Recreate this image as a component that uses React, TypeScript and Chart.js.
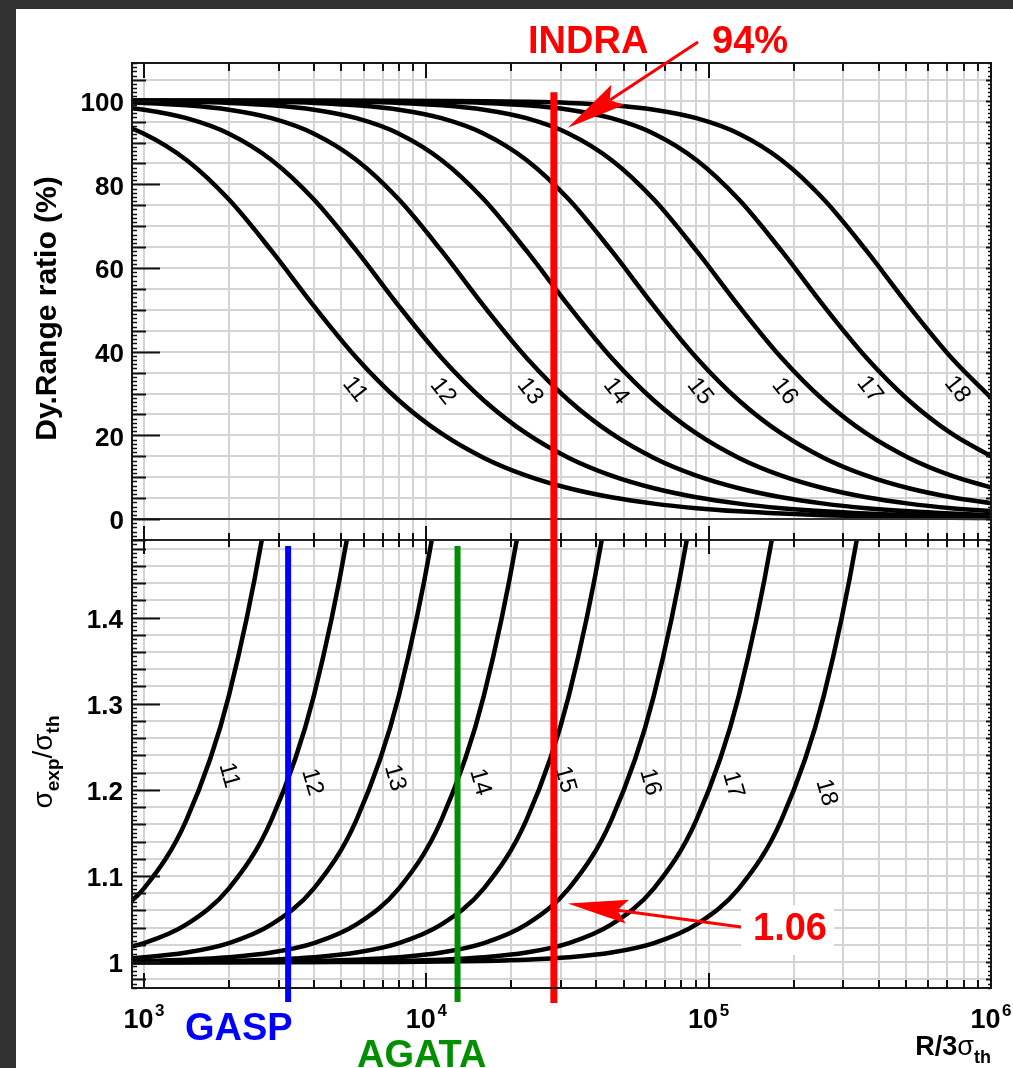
import React, { useEffect, useRef } from "react";
import { Chart, registerables } from "chart.js";

Chart.register(...registerables);

const W = 1013;
const H = 1068;

// ---------- data ----------
// sampled R/3σth positions shared by every curve
const xValues = [707.1, 1000, 1414.2, 2000, 2828.4, 4000, 5656.9, 8000, 11314, 16000, 22627, 32000, 45255, 64000, 90510, 128000, 181019, 256000, 362039, 512000, 724077, 1024000];

const bitCounts = ["11", "12", "13", "14", "15", "16", "17", "18"];

// top panel: dynamic range ratio (%)
const ratio11 = [95.81, 92.10, 85.82, 76.36, 64.14, 50.89, 38.57, 28.35, 20.46, 14.62, 10.39, 7.37, 5.22, 3.69, 2.61, 1.85, 1.31, 0.92, 0.65, 0.46, 0.33, 0.23];
const ratio12 = [98.90, 97.84, 95.81, 92.10, 85.82, 76.36, 64.14, 50.89, 38.57, 28.35, 20.46, 14.62, 10.39, 7.37, 5.22, 3.69, 2.61, 1.85, 1.31, 0.92, 0.65, 0.46];
const ratio13 = [99.72, 99.45, 98.90, 97.84, 95.81, 92.10, 85.82, 76.36, 64.14, 50.89, 38.57, 28.35, 20.46, 14.62, 10.39, 7.37, 5.22, 3.69, 2.61, 1.85, 1.31, 0.92];
const ratio14 = [99.93, 99.86, 99.72, 99.45, 98.90, 97.84, 95.81, 92.10, 85.82, 76.36, 64.14, 50.89, 38.57, 28.35, 20.46, 14.62, 10.39, 7.37, 5.22, 3.69, 2.61, 1.85];
const ratio15 = [99.98, 99.97, 99.93, 99.86, 99.72, 99.45, 98.90, 97.84, 95.81, 92.10, 85.82, 76.36, 64.14, 50.89, 38.57, 28.35, 20.46, 14.62, 10.39, 7.37, 5.22, 3.69];
const ratio16 = [100.0, 99.99, 99.98, 99.97, 99.93, 99.86, 99.72, 99.45, 98.90, 97.84, 95.81, 92.10, 85.82, 76.36, 64.14, 50.89, 38.57, 28.35, 20.46, 14.62, 10.39, 7.37];
const ratio17 = [100.0, 100.0, 100.0, 99.99, 99.98, 99.97, 99.93, 99.86, 99.72, 99.45, 98.90, 97.84, 95.81, 92.10, 85.82, 76.36, 64.14, 50.89, 38.57, 28.35, 20.46, 14.62];
const ratio18 = [100.0, 100.0, 100.0, 100.0, 100.0, 99.99, 99.98, 99.97, 99.93, 99.86, 99.72, 99.45, 98.90, 97.84, 95.81, 92.10, 85.82, 76.36, 64.14, 50.89, 38.57, 28.35];

// bottom panel: σexp/σth
const sigma11 = [1.0438, 1.0857, 1.1652, 1.3097, 1.5590, 1.9649, null, null, null, null, null, null, null, null, null, null, null, null, null, null, null, null];
const sigma12 = [1.0111, 1.0221, 1.0438, 1.0857, 1.1652, 1.3097, 1.5590, 1.9649, null, null, null, null, null, null, null, null, null, null, null, null, null, null];
const sigma13 = [1.0028, 1.0056, 1.0111, 1.0221, 1.0438, 1.0857, 1.1652, 1.3097, 1.5590, 1.9649, null, null, null, null, null, null, null, null, null, null, null, null];
const sigma14 = [1.0007, 1.0014, 1.0028, 1.0056, 1.0111, 1.0221, 1.0438, 1.0857, 1.1652, 1.3097, 1.5590, 1.9649, null, null, null, null, null, null, null, null, null, null];
const sigma15 = [1.0002, 1.0003, 1.0007, 1.0014, 1.0028, 1.0056, 1.0111, 1.0221, 1.0438, 1.0857, 1.1652, 1.3097, 1.5590, 1.9649, null, null, null, null, null, null, null, null];
const sigma16 = [1.0000, 1.0001, 1.0002, 1.0003, 1.0007, 1.0014, 1.0028, 1.0056, 1.0111, 1.0221, 1.0438, 1.0857, 1.1652, 1.3097, 1.5590, 1.9649, null, null, null, null, null, null];
const sigma17 = [1.0000, 1.0000, 1.0000, 1.0001, 1.0002, 1.0003, 1.0007, 1.0014, 1.0028, 1.0056, 1.0111, 1.0221, 1.0438, 1.0857, 1.1652, 1.3097, 1.5590, 1.9649, null, null, null, null];
const sigma18 = [1.0000, 1.0000, 1.0000, 1.0000, 1.0000, 1.0001, 1.0002, 1.0003, 1.0007, 1.0014, 1.0028, 1.0056, 1.0111, 1.0221, 1.0438, 1.0857, 1.1652, 1.3097, 1.5590, 1.9649, null, null];

const ratioSeries = [ratio11, ratio12, ratio13, ratio14, ratio15, ratio16, ratio17, ratio18];
const sigmaSeries = [sigma11, sigma12, sigma13, sigma14, sigma15, sigma16, sigma17, sigma18];

// axes
const xMin = 907;
const xMax = 1000000;
const ratioMin = -5;
const ratioMax = 109;
const sigmaMin = 0.97;
const sigmaMax = 1.49;

const xDecades = [1000, 10000, 100000, 1000000];
const xDecadeExponents = ["3", "4", "5", "6"];
const xMinorTicks = [2000, 3000, 4000, 5000, 6000, 7000, 8000, 9000, 20000, 30000, 40000, 50000, 60000, 70000, 80000, 90000, 200000, 300000, 400000, 500000, 600000, 700000, 800000, 900000];
const ratioTickValues = [0, 20, 40, 60, 80, 100];
const ratioTickLabels = ["0", "20", "40", "60", "80", "100"];
const sigmaTickValues = [1, 1.1, 1.2, 1.3, 1.4];
const sigmaTickLabels = ["1", "1.1", "1.2", "1.3", "1.4"];

// curve labels
const ratioLabelX = [5590, 11460, 23280, 47000, 93100, 186000, 372000, 759000];
const ratioLabelY = [31, 30.5, 30.5, 30.5, 30.5, 30.5, 31, 31];
const sigmaLabelX = [2000, 3940, 7740, 15500, 31000, 62000, 122000, 261000];
const sigmaLabelY = [1.217, 1.209, 1.214, 1.209, 1.212, 1.209, 1.206, 1.197];

// detectors
const detectorNames = ["GASP", "AGATA", "INDRA"];
const detectorX = [3240, 12900, 28300];
const detectorColors = ["#0000ff", "#008f00", "#ff0000"];
const indraRatioText = "94%";
const indraRatioValue = 94;
const indraSigmaText = "1.06";
const indraSigmaValue = 1.068;

// ---------- drawing helpers ----------
const SANS = '"Liberation Sans", Arial, Helvetica, sans-serif';
const f = (size: number, bold = true) => `${bold ? "bold " : ""}${size}px ${SANS}`;

type Seg = { text: string; font: string; dy: number };

function segWidth(ctx: CanvasRenderingContext2D, segs: Seg[]) {
  let w = 0;
  for (const s of segs) {
    ctx.font = s.font;
    w += ctx.measureText(s.text).width;
  }
  return w;
}
function drawSegs(ctx: CanvasRenderingContext2D, segs: Seg[], x0: number, baseY: number) {
  let x = x0;
  ctx.textAlign = "left";
  ctx.textBaseline = "alphabetic";
  for (const s of segs) {
    ctx.font = s.font;
    ctx.fillText(s.text, x, baseY + s.dy);
    x += ctx.measureText(s.text).width;
  }
}
function line(ctx: CanvasRenderingContext2D, x1: number, y1: number, x2: number, y2: number) {
  ctx.beginPath();
  ctx.moveTo(x1, y1);
  ctx.lineTo(x2, y2);
  ctx.stroke();
}
function arrow(ctx: CanvasRenderingContext2D, sx: number, sy: number, tx: number, ty: number, color: string) {
  const dx = sx - tx, dy = sy - ty;
  const L = Math.hypot(dx, dy);
  const ux = dx / L, uy = dy / L;
  const px = -uy, py = ux;
  const head = 60, notch = 50, half = 12;
  ctx.strokeStyle = color;
  ctx.fillStyle = color;
  ctx.lineWidth = 3;
  line(ctx, sx, sy, tx + ux * notch, ty + uy * notch);
  ctx.beginPath();
  ctx.moveTo(tx, ty);
  ctx.lineTo(tx + ux * head + px * half, ty + uy * head + py * half);
  ctx.lineTo(tx + ux * notch, ty + uy * notch);
  ctx.lineTo(tx + ux * head - px * half, ty + uy * head - py * half);
  ctx.closePath();
  ctx.fill();
}

const rootStyle = {
  id: "rootStyle",
  beforeDraw(chart: any) {
    const ctx: CanvasRenderingContext2D = chart.ctx;
    ctx.save();
    ctx.fillStyle = "#323232";
    ctx.fillRect(0, 0, W, H);
    ctx.fillStyle = "#ffffff";
    ctx.fillRect(16, 9, W - 16, H - 9);
    ctx.restore();
  },
  beforeDatasetsDraw(chart: any) {
    const ctx: CanvasRenderingContext2D = chart.ctx;
    const a = chart.chartArea;
    const xs = chart.scales.x, yT = chart.scales.yTop, yB = chart.scales.yBot;
    ctx.save();
    ctx.strokeStyle = "#d4d4d4";
    ctx.lineWidth = 2;
    for (const v of [...xDecades, ...xMinorTicks]) {
      const px = Math.round(xs.getPixelForValue(v));
      if (px <= a.left + 1 || px >= a.right - 1) continue;
      line(ctx, px, a.top, px, a.bottom);
    }
    for (let v = -5; v <= ratioMax; v += 5) {
      const py = Math.round(yT.getPixelForValue(v));
      if (py <= a.top + 1 || py >= yT.bottom - 1) continue;
      line(ctx, a.left, py, a.right, py);
    }
    for (let i = 49; i <= 74; i++) {
      const py = Math.round(yB.getPixelForValue(i * 0.02));
      if (py <= yB.top + 1 || py >= a.bottom - 1) continue;
      line(ctx, a.left, py, a.right, py);
    }
    ctx.restore();
  },
  afterDatasetsDraw(chart: any) {
    const ctx: CanvasRenderingContext2D = chart.ctx;
    const a = chart.chartArea;
    const xs = chart.scales.x, yT = chart.scales.yTop, yB = chart.scales.yBot;
    const X = (v: number) => xs.getPixelForValue(v);
    const mid = yT.bottom;
    ctx.save();

    // curve labels
    ctx.fillStyle = "#000";
    ctx.font = f(24, false);
    ctx.textAlign = "center";
    ctx.textBaseline = "middle";
    bitCounts.forEach((b, i) => {
      ctx.save();
      ctx.translate(X(ratioLabelX[i]), yT.getPixelForValue(ratioLabelY[i]));
      ctx.rotate((52 * Math.PI) / 180);
      ctx.fillText(b, 0, 0);
      ctx.restore();
      ctx.save();
      ctx.translate(X(sigmaLabelX[i]), yB.getPixelForValue(sigmaLabelY[i]));
      ctx.rotate((74 * Math.PI) / 180);
      ctx.fillText(b, 0, 0);
      ctx.restore();
    });

    // white box behind the 1.06 text
    ctx.fillStyle = "#ffffff";
    ctx.fillRect(741, 905, 93, 50);

    // zero line and panel boundary
    ctx.strokeStyle = "#333";
    ctx.lineWidth = 2;
    const y0 = Math.round(yT.getPixelForValue(0));
    line(ctx, a.left, y0, a.right, y0);
    ctx.strokeStyle = "#222";
    line(ctx, a.left, mid, a.right, mid);

    // detector lines
    const gx = X(detectorX[0]);
    const ax = X(detectorX[1]);
    const ix = X(detectorX[2]);
    ctx.lineWidth = 6;
    ctx.strokeStyle = detectorColors[0];
    line(ctx, gx, yB.getPixelForValue(1.483), gx, a.bottom + 14);
    ctx.strokeStyle = detectorColors[1];
    line(ctx, ax, yB.getPixelForValue(1.483), ax, a.bottom + 14);
    ctx.lineWidth = 7;
    ctx.strokeStyle = detectorColors[2];
    line(ctx, ix, yT.getPixelForValue(102), ix, a.bottom + 15);

    // frame
    ctx.strokeStyle = "#1a1a1a";
    ctx.lineWidth = 2;
    ctx.strokeRect(a.left, a.top, a.right - a.left, a.bottom - a.top);

    // ticks
    ctx.lineWidth = 2;
    ctx.strokeStyle = "#111";
    for (let v = ratioMin; v <= ratioMax; v++) {
      const py = Math.round(yT.getPixelForValue(v)) + 0.5;
      const len = v % 20 === 0 ? 28 : v % 5 === 0 ? 14 : 5;
      ctx.lineWidth = len > 5 ? 2 : 1.5;
      line(ctx, a.left, py, a.left + len, py);
      line(ctx, a.right, py, a.right - (len > 5 ? 5 : 3), py);
    }
    for (let i = 194; i <= 298; i++) {
      const py = Math.round(yB.getPixelForValue(i / 200)) + 0.5;
      const len = i % 20 === 0 ? 28 : i % 4 === 0 ? 14 : 5;
      ctx.lineWidth = len > 5 ? 2 : 1.5;
      line(ctx, a.left, py, a.left + len, py);
      line(ctx, a.right, py, a.right - (len > 5 ? 5 : 3), py);
    }
    ctx.lineWidth = 2;
    const xt = [...xDecades.map((v) => [v, 15]), ...xMinorTicks.map((v) => [v, 8])];
    for (const [v, len] of xt) {
      const px = Math.round(X(v));
      line(ctx, px, a.top, px, a.top + len);
      line(ctx, px, a.bottom, px, a.bottom - len);
      line(ctx, px, mid - len + 1, px, mid + len - 1);
    }

    // tick labels
    ctx.fillStyle = "#000";
    ctx.font = f(26);
    ctx.textAlign = "right";
    ctx.textBaseline = "middle";
    ratioTickValues.forEach((v, i) => ctx.fillText(ratioTickLabels[i], a.left - 8, yT.getPixelForValue(v) + 3));
    sigmaTickValues.forEach((v, i) => ctx.fillText(sigmaTickLabels[i], a.left - 9, yB.getPixelForValue(v) + 3));
    xDecades.forEach((v, i) => {
      const segs: Seg[] = [
        { text: "10", font: f(27), dy: 0 },
        { text: " ", font: f(6), dy: 0 },
        { text: xDecadeExponents[i], font: f(17), dy: -12 },
      ];
      const w = segWidth(ctx, segs);
      drawSegs(ctx, segs, X(v) - w / 2, a.bottom + 40);
    });

    // axis titles
    ctx.fillStyle = "#000";
    ctx.save();
    ctx.translate(56, (yT.top + yT.bottom) / 2 + 7);
    ctx.rotate(-Math.PI / 2);
    ctx.font = f(30);
    ctx.textAlign = "center";
    ctx.textBaseline = "alphabetic";
    ctx.fillText("Dy.Range ratio (%)", 0, 0);
    ctx.restore();

    ctx.save();
    ctx.translate(52, 762);
    ctx.rotate(-Math.PI / 2);
    const ySegs: Seg[] = [
      { text: "σ", font: f(28, false), dy: 0 },
      { text: "exp", font: f(19), dy: 7 },
      { text: "/", font: f(28, false), dy: 0 },
      { text: "σ", font: f(28, false), dy: 0 },
      { text: "th", font: f(19), dy: 7 },
    ];
    drawSegs(ctx, ySegs, -segWidth(ctx, ySegs) / 2, 0);
    ctx.restore();

    const xSegs: Seg[] = [
      { text: "R/3", font: f(27), dy: 0 },
      { text: "σ", font: f(27, false), dy: 0 },
      { text: "th", font: f(18), dy: 8 },
    ];
    drawSegs(ctx, xSegs, a.right - segWidth(ctx, xSegs), a.bottom + 67);

    // detector names and annotations
    ctx.font = f(38);
    ctx.textAlign = "left";
    ctx.textBaseline = "alphabetic";
    ctx.fillStyle = detectorColors[0];
    ctx.fillText(detectorNames[0], 185, 1040);
    ctx.fillStyle = detectorColors[1];
    ctx.fillText(detectorNames[1], 357, 1067);
    ctx.fillStyle = detectorColors[2];
    ctx.fillText(detectorNames[2], 528, 53);
    ctx.fillText(indraRatioText, 712, 53);
    ctx.fillText(indraSigmaText, 753, 940);

    arrow(ctx, 698, 42, ix + 14, yT.getPixelForValue(indraRatioValue) + 2, detectorColors[2]);
    arrow(ctx, 741, 927, ix + 14, yB.getPixelForValue(indraSigmaValue), detectorColors[2]);

    ctx.restore();
  },
};

const hiddenAxis = {
  display: true,
  ticks: { display: false },
  grid: { display: false, drawTicks: false },
  border: { display: false },
  title: { display: false },
};

export default function App() {
  const ref = useRef<HTMLCanvasElement>(null);
  useEffect(() => {
    const canvas = ref.current;
    if (!canvas) return;
    const mk = (series: (number | null)[][], axis: string) =>
      series.map((ys, i) => ({
        label: `${axis} ${bitCounts[i]}`,
        data: xValues.map((x, k) => ({ x, y: ys[k] })),
        yAxisID: axis,
        xAxisID: "x",
        borderColor: "#000",
        backgroundColor: "#000",
        borderWidth: 4.5,
        pointRadius: 0,
        fill: false,
        cubicInterpolationMode: "monotone" as const,
        clip: 0,
      }));
    const chart = new Chart(canvas, {
      type: "line",
      data: { datasets: [...mk(ratioSeries, "yTop"), ...mk(sigmaSeries, "yBot")] as any },
      options: {
        animation: false,
        responsive: false,
        devicePixelRatio: 1,
        events: [],
        layout: { padding: { left: 132, top: 63, right: W - 991, bottom: H - 988 } },
        plugins: { legend: { display: false }, tooltip: { enabled: false }, title: { display: false } },
        scales: {
          x: { ...hiddenAxis, type: "logarithmic", min: xMin, max: xMax },
          yTop: { ...hiddenAxis, type: "linear", position: "right", stack: "panels", stackWeight: 477, min: ratioMin, max: ratioMax },
          yBot: { ...hiddenAxis, type: "linear", position: "right", stack: "panels", stackWeight: 448, min: sigmaMin, max: sigmaMax },
        } as any,
      },
      plugins: [rootStyle],
    });
    return () => chart.destroy();
  }, []);
  return (
    <div style={{ position: "absolute", left: 0, top: 0, width: W, height: H }}>
      <canvas ref={ref} width={W} height={H} style={{ display: "block", width: W, height: H }} />
    </div>
  );
}
